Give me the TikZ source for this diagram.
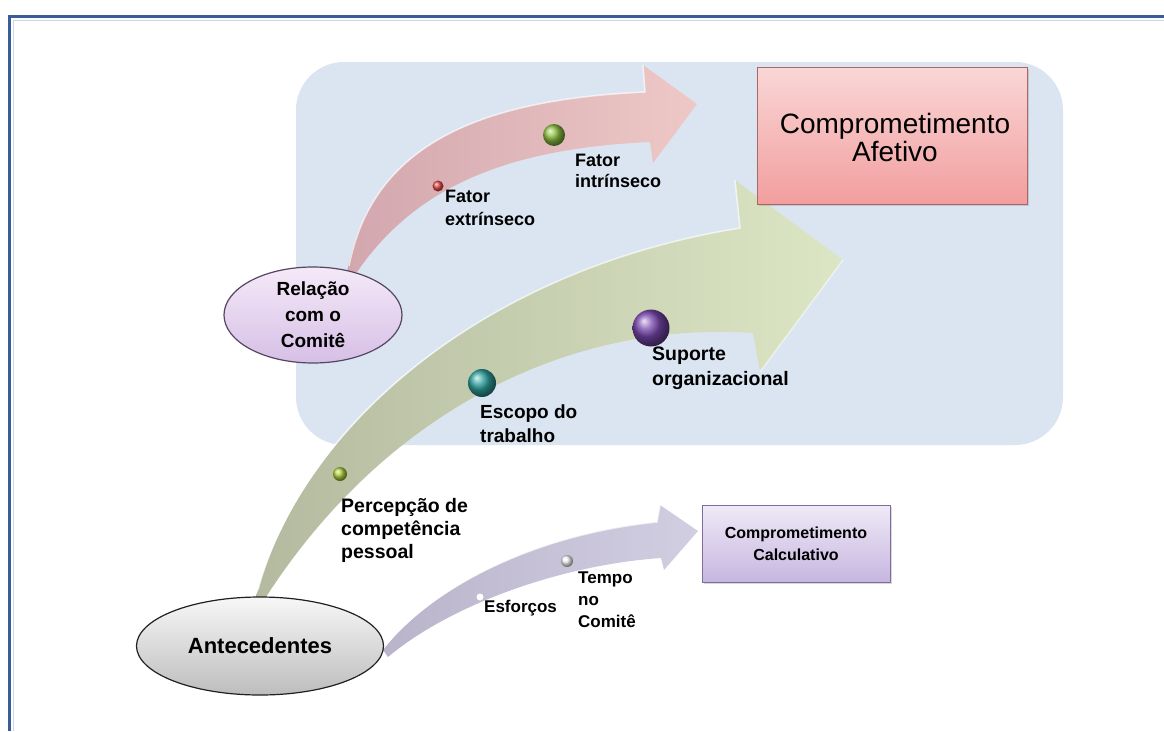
\documentclass[tikz,border=0pt]{standalone}
\usepackage{fontspec}
\setmainfont{Liberation Sans}
\usetikzlibrary{shapes.geometric,shadows}
\definecolor{frameblue}{HTML}{3A5D9A}
\definecolor{frameinner}{HTML}{C9D9EA}
\definecolor{panel}{HTML}{DBE5F1}
\definecolor{pinkL}{HTML}{D2A7AE}
\definecolor{pinkR}{HTML}{EEC8C6}
\definecolor{greenL}{HTML}{B4BA9F}
\definecolor{greenR}{HTML}{DCE6C4}
\definecolor{lavL}{HTML}{B9B4CA}
\definecolor{lavR}{HTML}{D2CEE2}
\definecolor{afTop}{HTML}{FAD6D6}
\definecolor{afBot}{HTML}{F29E9E}
\definecolor{afLine}{HTML}{A86868}
\definecolor{caTop}{HTML}{EFEAF7}
\definecolor{caBot}{HTML}{C7B6E0}
\definecolor{caLine}{HTML}{7E6E9E}
\definecolor{relTop}{HTML}{F5E9F8}
\definecolor{relBot}{HTML}{D6BFE6}
\definecolor{relLine}{HTML}{54465F}
\definecolor{antTop}{HTML}{F7F7F7}
\definecolor{antBot}{HTML}{BDBDBD}
\definecolor{antLine}{HTML}{202020}
\definecolor{bRed}{HTML}{E04848}
\definecolor{bGreen}{HTML}{8CC040}
\definecolor{bTeal}{HTML}{2FA3A0}
\definecolor{bPurple}{HTML}{7A48B0}
\definecolor{bLime}{HTML}{B0D040}
\newcommand{\mylines}[1]{\begin{tabular}[t]{@{}l@{}}#1\end{tabular}}
\tikzset{
  lab/.style={anchor=base west, inner sep=0pt, font=\bfseries},
  hilite/.style={white, opacity=.65, line width=1.5pt},
  oval/.style={ellipse, line width=1.2pt, inner sep=0pt, align=center},
  boxnode/.style={rectangle, line width=1pt, inner sep=0pt,
     drop shadow={shadow xshift=2pt, shadow yshift=-2pt, opacity=.3}},
}
\begin{document}
\begin{tikzpicture}[x=1pt,y=-1pt]
\useasboundingbox (0,0) rectangle (1164,731);
\fill[white] (0,0) rectangle (1164,731);
% frame
\draw[frameinner, line width=1pt] (13,731) -- (13,20) -- (1164,20);
\draw[frameblue, line width=3.5pt] (9.5,731) -- (9.5,16.5) -- (1164,16.5);
% panel
\fill[panel, rounded corners=48pt] (296,62) rectangle (1063,445);
% pink arrow
\shade[left color=pinkL, right color=pinkR]
  (347,272) .. controls (370,150) and (470,100) .. (645,92) -- (643,65) -- (697,104)
  -- (653,163) -- (650,142) .. controls (520,148) and (420,180) .. (357,272) -- cycle;
\draw[hilite] (349,266) .. controls (372,150) and (470,100) .. (645,92) -- (643,65);
% green arrow
\shade[left color=greenL, right color=greenR]
  (256,597) .. controls (300,430) and (480,270) .. (740,228) -- (735,180) -- (843,260)
  -- (760,372) -- (753,333) .. controls (560,320) and (380,420) .. (266,597) -- cycle;
\draw[hilite] (258,590) .. controls (300,430) and (480,270) .. (740,228) -- (735,180);
\draw[hilite, opacity=.5] (843,260) -- (760,372);
% lavender arrow
\shade[left color=lavL, right color=lavR]
  (383,650) .. controls (430,590) and (530,535) .. (657,522) -- (660,505) -- (698,531)
  -- (664,570) -- (661,558) .. controls (560,565) and (450,605) .. (388,657) -- cycle;
\draw[hilite] (385,646) .. controls (430,590) and (530,535) .. (657,522) -- (660,505);
% boxes
\node[boxnode, draw=afLine, top color=afTop, bottom color=afBot,
      minimum width=270pt, minimum height=137pt] (afetivo) at (892,135.5) {};
\node[font=\fontsize{28}{28}\selectfont, align=center, inner sep=0pt]
      (afetivoT) at (895,137) {Comprometimento\\Afetivo};
\node[boxnode, draw=caLine, top color=caTop, bottom color=caBot,
      minimum width=188pt, minimum height=77pt, align=center,
      font=\bfseries\fontsize{16}{22}\selectfont] (calc) at (796,543.5)
      {Comprometimento\\Calculativo};
% ellipses
\node[oval, draw=relLine, top color=relTop, bottom color=relBot,
      minimum width=178pt, minimum height=96pt,
      font=\bfseries\fontsize{19}{26}\selectfont] (rel) at (313,315)
      {Relação\\com o\\Comitê};
\node[oval, draw=antLine, top color=antTop, bottom color=antBot,
      minimum width=247pt, minimum height=98pt,
      font=\bfseries\fontsize{22}{26}\selectfont] (ant) at (260,646)
      {Antecedentes};
% bubbles
\shade[ball color=bRed] (438,186) circle (5.5);
\shade[ball color=bGreen] (554,135) circle (11);
\shade[ball color=bTeal] (482,383) circle (14);
\shade[ball color=bPurple] (651,328) circle (18.5);
\shade[ball color=bLime] (340,474) circle (7);
\shade[ball color=white!92!gray] (567,561) circle (6);
\fill[white] (480,597) circle (3.5);
% labels
\node[lab, font=\bfseries\fontsize{18}{23}\selectfont] (fe) at (445,202) {\mylines{Fator\\extrínseco}};
\node[lab, font=\bfseries\fontsize{18}{21}\selectfont] (fi) at (575,166) {\mylines{Fator\\intrínseco}};
\node[lab, font=\bfseries\fontsize{19}{24}\selectfont] (esc) at (480,418) {\mylines{Escopo do\\trabalho}};
\node[lab, font=\bfseries\fontsize{19.5}{25}\selectfont] (sup) at (652,360) {\mylines{Suporte\\organizacional}};
\node[lab, font=\bfseries\fontsize{19.5}{23}\selectfont] (per) at (341,512) {\mylines{Percepção de\\competência\\pessoal}};
\node[lab, font=\bfseries\fontsize{17}{22}\selectfont] (tem) at (578,583) {\mylines{Tempo\\no\\Comitê}};
\node[lab, font=\bfseries\fontsize{17}{22}\selectfont] (esf) at (484,612) {Esforços};
\end{tikzpicture}
\end{document}
